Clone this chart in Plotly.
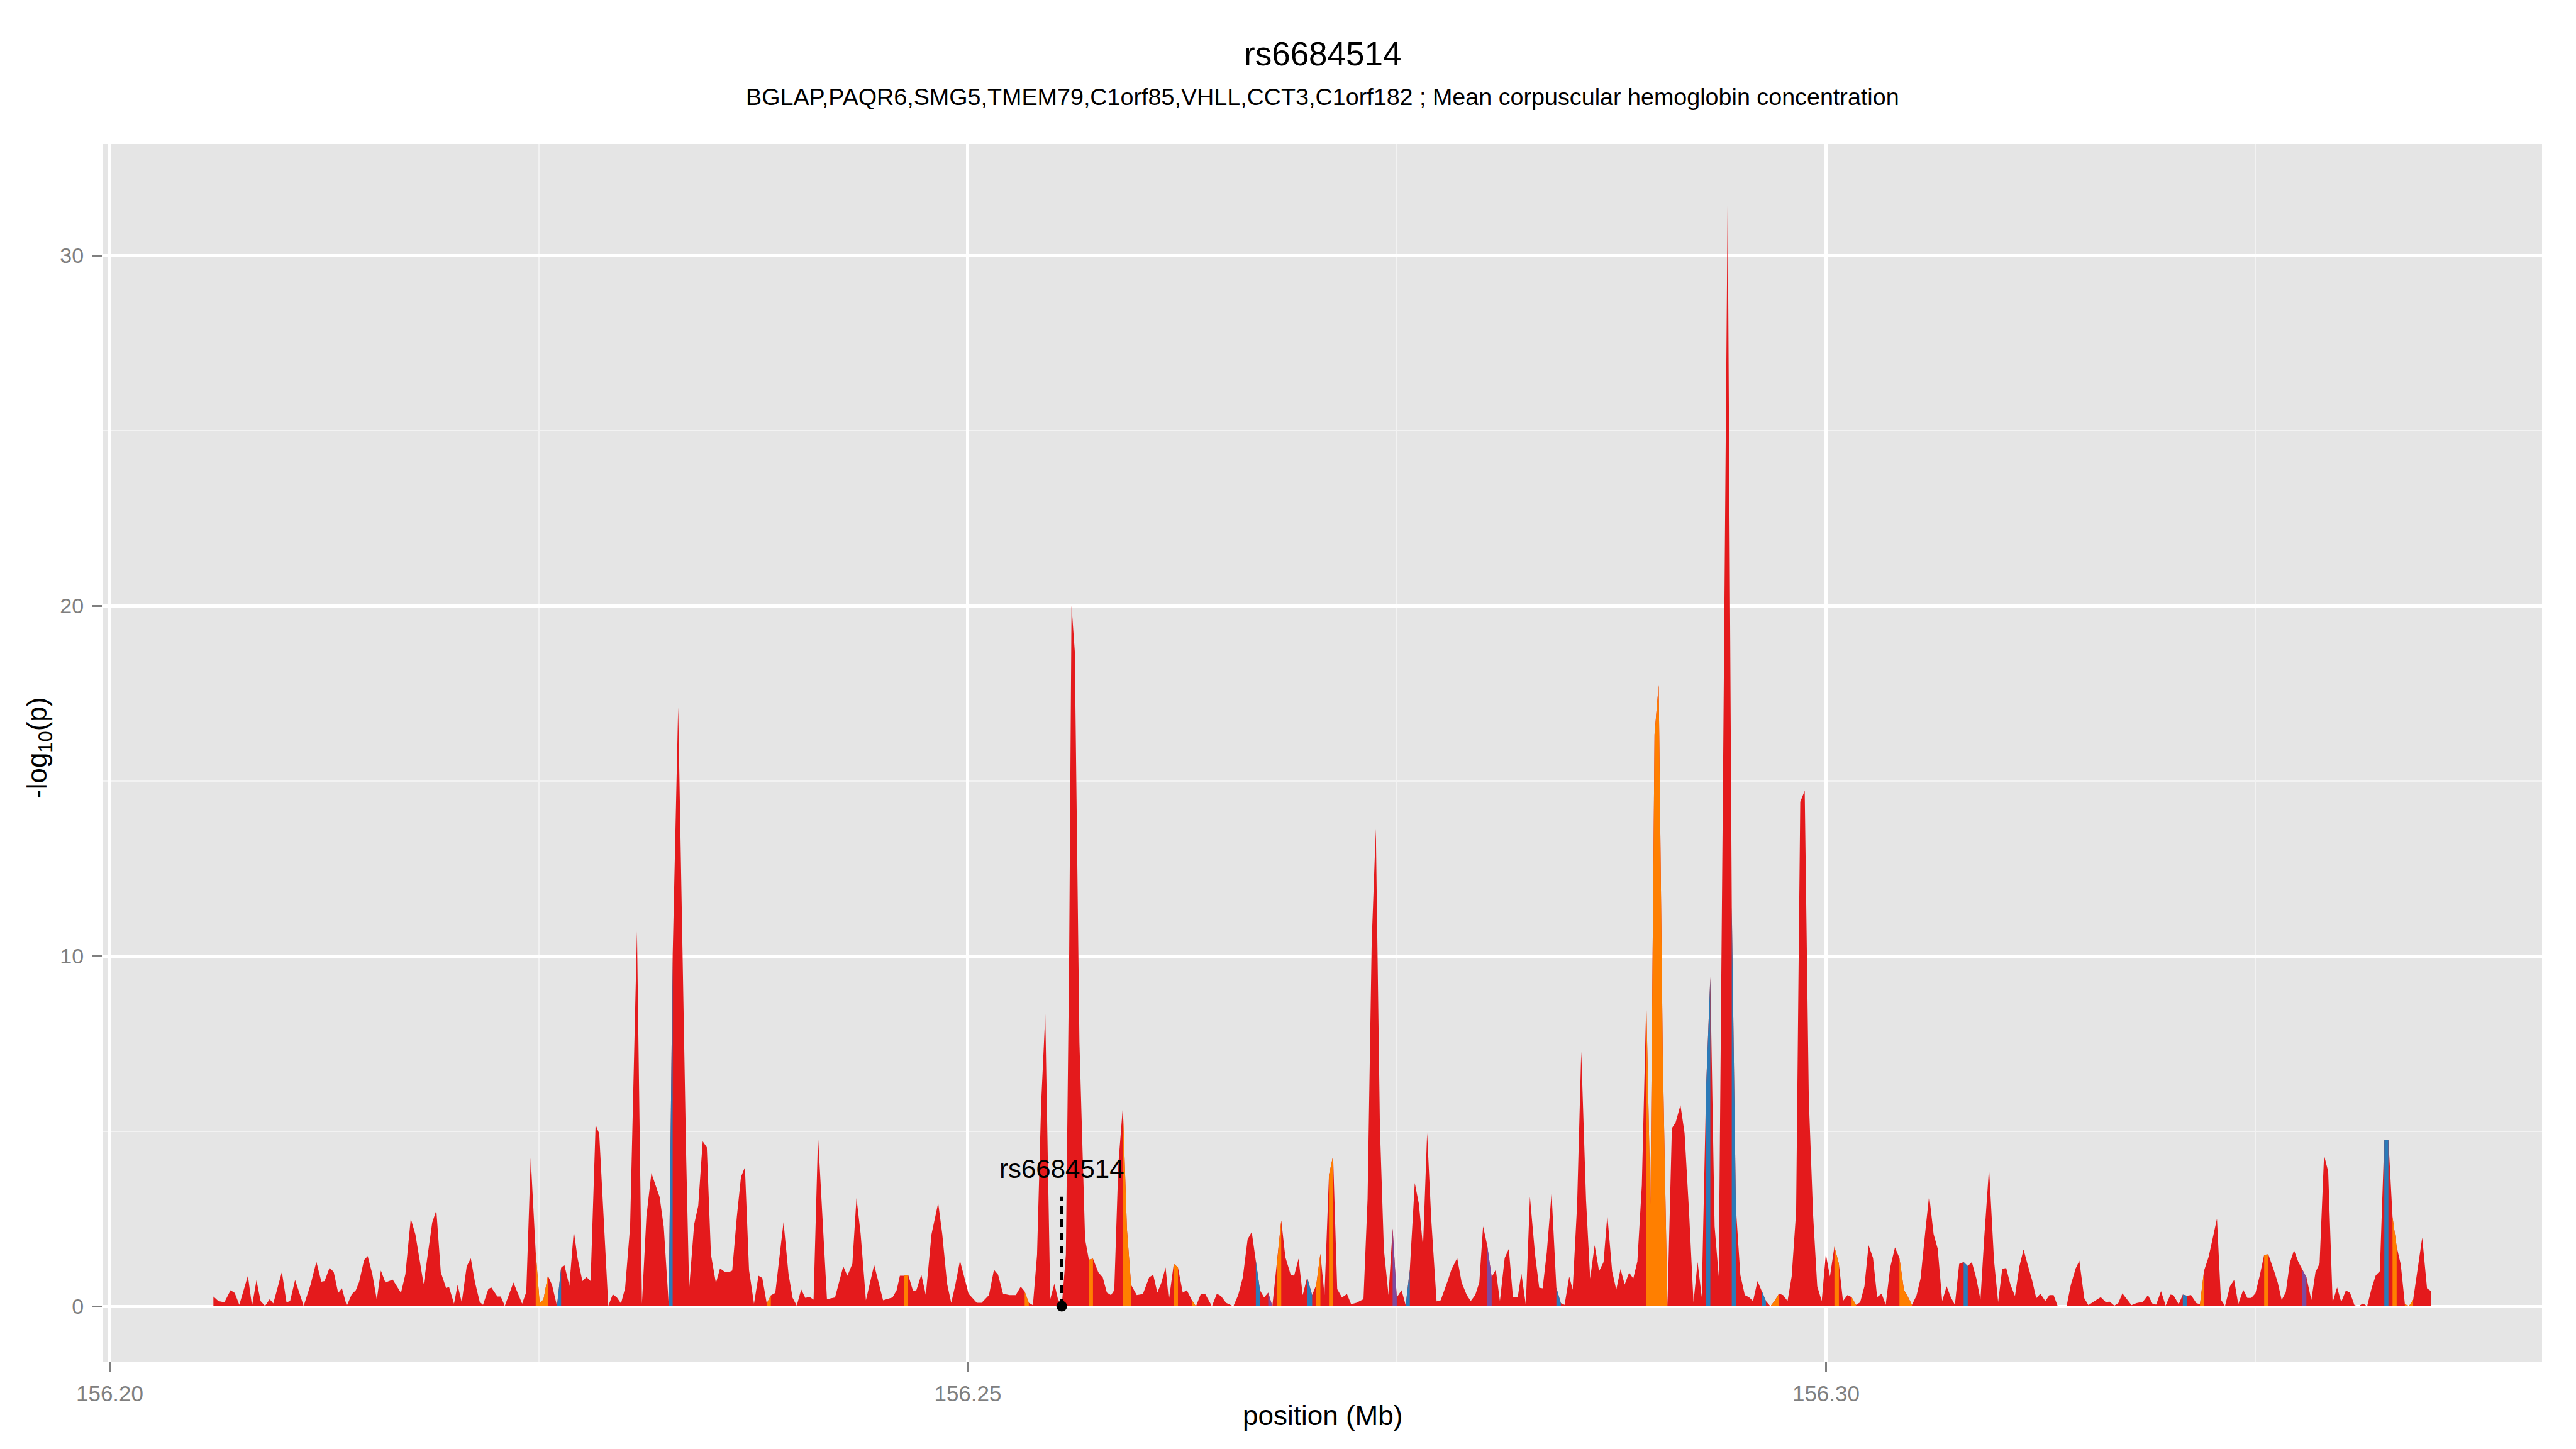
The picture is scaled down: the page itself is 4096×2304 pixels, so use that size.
import plotly.graph_objects as go

# ---------------- data ----------------
positions_mb = [
    156.20604, 156.20633, 156.20668, 156.20704, 156.20728, 156.20755, 156.20805, 156.20829, 156.20855, 156.20879,
    156.20905, 156.20932, 156.20953, 156.21003, 156.21030, 156.21051, 156.21080, 156.21130, 156.21171, 156.21204,
    156.21233, 156.21252, 156.21281, 156.21305, 156.21331, 156.21353, 156.21381, 156.21410, 156.21434, 156.21453,
    156.21482, 156.21503, 156.21530, 156.21556, 156.21580, 156.21606, 156.21649, 156.21697, 156.21723, 156.21754,
    156.21781, 156.21829, 156.21879, 156.21903, 156.21929, 156.21960, 156.21977, 156.22006, 156.22027, 156.22051,
    156.22080, 156.22104, 156.22128, 156.22156, 156.22175, 156.22206, 156.22223, 156.22259, 156.22278, 156.22302,
    156.22352, 156.22403, 156.22427, 156.22453, 156.22482, 156.22505, 156.22527, 156.22553, 156.22577, 156.22606,
    156.22630, 156.22649, 156.22678, 156.22704, 156.22726, 156.22754, 156.22778, 156.22802, 156.22831, 156.22852,
    156.22905, 156.22931, 156.22955, 156.22979, 156.23003, 156.23032, 156.23072, 156.23101, 156.23127, 156.23156,
    156.23180, 156.23204, 156.23228, 156.23257, 156.23280, 156.23312, 156.23359, 156.23376, 156.23405, 156.23429,
    156.23455, 156.23479, 156.23503, 156.23532, 156.23556, 156.23587, 156.23606, 156.23627, 156.23654, 156.23678,
    156.23701, 156.23725, 156.23754, 156.23780, 156.23802, 156.23828, 156.23852, 156.23878, 156.23900, 156.23926,
    156.23955, 156.23979, 156.24003, 156.24029, 156.24053, 156.24077, 156.24101, 156.24127, 156.24179, 156.24226,
    156.24274, 156.24298, 156.24327, 156.24351, 156.24375, 156.24406, 156.24454, 156.24482, 156.24506, 156.24561,
    156.24585, 156.24604, 156.24628, 156.24652, 156.24681, 156.24700, 156.24729, 156.24755, 156.24788, 156.24827,
    156.24851, 156.24879, 156.24903, 156.24927, 156.24954, 156.24977, 156.25004, 156.25052, 156.25080, 156.25123,
    156.25152, 156.25176, 156.25205, 156.25243, 156.25279, 156.25308, 156.25331, 156.25355, 156.25379, 156.25403,
    156.25427, 156.25451, 156.25480, 156.25504, 156.25525, 156.25547, 156.25571, 156.25590, 156.25604, 156.25623,
    156.25650, 156.25683, 156.25705, 156.25729, 156.25760, 156.25786, 156.25810, 156.25834, 156.25853, 156.25877,
    156.25903, 156.25927, 156.25951, 156.25984, 156.26020, 156.26056, 156.26080, 156.26104, 156.26128, 156.26152,
    156.26171, 156.26200, 156.26224, 156.26252, 156.26276, 156.26305, 156.26329, 156.26358, 156.26382, 156.26422,
    156.26451, 156.26475, 156.26504, 156.26547, 156.26575, 156.26602, 156.26630, 156.26654, 156.26678, 156.26702,
    156.26726, 156.26750, 156.26774, 156.26803, 156.26826, 156.26850, 156.26881, 156.26901, 156.26927, 156.26951,
    156.26977, 156.27006, 156.27030, 156.27054, 156.27078, 156.27104, 156.27128, 156.27152, 156.27180, 156.27209,
    156.27233, 156.27264, 156.27305, 156.27329, 156.27353, 156.27377, 156.27401, 156.27424, 156.27451, 156.27475,
    156.27499, 156.27527, 156.27551, 156.27575, 156.27604, 156.27628, 156.27652, 156.27676, 156.27700, 156.27731,
    156.27755, 156.27797, 156.27817, 156.27851, 156.27877, 156.27907, 156.27930, 156.27956, 156.27980, 156.28002,
    156.28026, 156.28052, 156.28076, 156.28100, 156.28128, 156.28152, 156.28176, 156.28204, 156.28225, 156.28251,
    156.28275, 156.28305, 156.28329, 156.28349, 156.28373, 156.28401, 156.28429, 156.28455, 156.28477, 156.28504,
    156.28524, 156.28550, 156.28574, 156.28602, 156.28626, 156.28652, 156.28678, 156.28704, 156.28726, 156.28754,
    156.28778, 156.28803, 156.28827, 156.28853, 156.28877, 156.28901, 156.28927, 156.28953, 156.28977, 156.29001,
    156.29025, 156.29049, 156.29076, 156.29102, 156.29124, 156.29152, 156.29176, 156.29202, 156.29228, 156.29252,
    156.29276, 156.29302, 156.29326, 156.29351, 156.29375, 156.29401, 156.29427, 156.29451, 156.29475, 156.29501,
    156.29527, 156.29551, 156.29575, 156.29601, 156.29627, 156.29650, 156.29676, 156.29700, 156.29726, 156.29750,
    156.29776, 156.29800, 156.29826, 156.29850, 156.29876, 156.29900, 156.29925, 156.29949, 156.29975, 156.29999,
    156.30023, 156.30049, 156.30075, 156.30099, 156.30125, 156.30149, 156.30175, 156.30199, 156.30224, 156.30248,
    156.30274, 156.30298, 156.30324, 156.30348, 156.30374, 156.30402, 156.30428, 156.30454, 156.30478, 156.30501,
    156.30527, 156.30551, 156.30577, 156.30601, 156.30627, 156.30651, 156.30677, 156.30703, 156.30727, 156.30751,
    156.30776, 156.30802, 156.30826, 156.30850, 156.30876, 156.30900, 156.30922, 156.30950, 156.30979, 156.31003,
    156.31027, 156.31050, 156.31074, 156.31101, 156.31127, 156.31151, 156.31175, 156.31201, 156.31225, 156.31249,
    156.31278, 156.31302, 156.31326, 156.31349, 156.31402, 156.31426, 156.31455, 156.31476, 156.31505, 156.31529,
    156.31565, 156.31601, 156.31629, 156.31653, 156.31680, 156.31703, 156.31727, 156.31756, 156.31780, 156.31809,
    156.31847, 156.31876, 156.31904, 156.31924, 156.31952, 156.31979, 156.32007, 156.32024, 156.32055, 156.32079,
    156.32103, 156.32127, 156.32158, 156.32179, 156.32203, 156.32230, 156.32254, 156.32278, 156.32301, 156.32325,
    156.32354, 156.32378, 156.32402, 156.32431, 156.32455, 156.32478, 156.32502, 156.32529, 156.32553, 156.32577,
    156.32608, 156.32632, 156.32655, 156.32679, 156.32703, 156.32727, 156.32751, 156.32775, 156.32799, 156.32828,
    156.32852, 156.32876, 156.32902, 156.32926, 156.32952, 156.32978, 156.33002, 156.33029, 156.33053, 156.33079,
    156.33103, 156.33129, 156.33153, 156.33179, 156.33203, 156.33227, 156.33253, 156.33277, 156.33301, 156.33325,
    156.33349, 156.33373, 156.33397, 156.33421, 156.33450, 156.33474, 156.33502, 156.33526,
]

neg_log10_p = [
    0.28, 0.15, 0.11, 0.46, 0.38, 0.04, 0.87, 0.01, 0.74, 0.15,
    0.01, 0.20, 0.08, 0.98, 0.11, 0.15, 0.75, 0.01, 0.63, 1.27,
    0.70, 0.72, 1.10, 0.98, 0.38, 0.51, 0.01, 0.34, 0.46, 0.69,
    1.32, 1.43, 0.92, 0.19, 1.02, 0.68, 0.76, 0.38, 0.92, 2.50,
    2.05, 0.63, 2.39, 2.74, 0.97, 0.52, 0.55, 0.07, 0.61, 0.11,
    1.14, 1.37, 0.69, 0.12, 0.04, 0.49, 0.54, 0.28, 0.28, 0.01,
    0.68, 0.07, 0.41, 4.23, 1.54, 0.10, 0.19, 0.87, 0.61, 0.01,
    1.10, 1.18, 0.58, 2.15, 1.37, 0.72, 0.83, 0.72, 5.18, 4.93,
    0.01, 0.34, 0.25, 0.08, 0.52, 2.27, 10.70, 0.07, 2.56, 3.80,
    3.46, 3.12, 2.27, 0.05, 10.00, 17.10, 4.20, 0.50, 2.33, 2.87,
    4.71, 4.54, 1.48, 0.66, 1.08, 0.97, 0.97, 1.02, 2.56, 3.69,
    3.97, 1.03, 0.07, 0.87, 0.81, 0.08, 0.31, 0.38, 1.31, 2.40,
    0.92, 0.24, 0.02, 0.48, 0.24, 0.27, 0.19, 4.85, 0.20, 0.25,
    1.14, 0.87, 1.21, 3.09, 2.08, 0.17, 1.18, 0.64, 0.17, 0.25,
    0.46, 0.87, 0.87, 0.90, 0.43, 0.46, 0.90, 0.32, 2.05, 2.95,
    2.05, 0.64, 0.10, 0.61, 1.30, 0.87, 0.36, 0.10, 0.10, 0.32,
    1.04, 0.90, 0.36, 0.32, 0.32, 0.56, 0.42, 0.10, 0.03, 1.47,
    5.80, 8.33, 0.20, 0.64, 0.20, 0.00, 1.47, 9.85, 20.00, 18.70,
    7.54, 1.91, 1.33, 1.36, 0.97, 0.82, 0.39, 0.32, 0.46, 4.07,
    5.69, 2.19, 0.61, 0.32, 0.35, 0.82, 0.90, 0.39, 0.68, 1.11,
    0.17, 1.21, 1.11, 0.39, 0.46, 0.17, 0.00, 0.36, 0.36, 0.00,
    0.36, 0.29, 0.10, 0.00, 0.32, 0.82, 1.91, 2.12, 1.30, 0.46,
    0.25, 0.39, 0.00, 1.33, 2.45, 1.40, 0.90, 0.87, 1.36, 0.32,
    0.82, 0.32, 0.61, 1.50, 0.32, 3.75, 4.29, 0.49, 0.25, 0.35,
    0.06, 0.10, 0.20, 3.06, 10.40, 13.63, 5.08, 1.62, 0.32, 2.22,
    0.25, 0.46, 0.03, 1.04, 3.52, 2.92, 1.69, 4.94, 2.48, 0.14,
    0.17, 0.74, 1.04, 1.38, 0.68, 0.32, 0.15, 0.32, 0.68, 2.28,
    1.74, 0.83, 1.04, 0.15, 1.38, 1.64, 0.26, 0.26, 0.94, 0.04,
    3.13, 1.47, 0.53, 0.51, 1.53, 3.23, 0.53, 0.09, 0.04, 0.85,
    0.47, 2.91, 7.27, 3.02, 0.79, 1.74, 1.00, 1.26, 2.60, 1.00,
    0.47, 1.06, 0.62, 0.96, 0.79, 1.28, 3.45, 8.70, 2.91, 16.32,
    17.74, 7.17, 0.00, 5.08, 5.25, 5.74, 4.94, 2.70, 0.11, 1.26,
    0.26, 6.32, 9.40, 2.28, 0.85, 15.68, 31.60, 11.40, 2.81, 0.89,
    0.32, 0.26, 0.15, 0.72, 0.43, 0.15, 0.00, 0.15, 0.36, 0.32,
    0.15, 0.85, 2.70, 14.40, 14.72, 5.89, 2.60, 0.57, 0.15, 1.49,
    0.85, 1.70, 1.21, 0.15, 0.32, 0.26, 0.04, 0.11, 0.57, 1.74,
    1.38, 0.26, 0.36, 0.04, 1.11, 1.68, 1.38, 0.47, 0.26, 0.04,
    0.30, 0.79, 2.06, 3.17, 2.06, 1.64, 0.15, 0.57, 0.26, 0.04,
    1.21, 1.26, 1.15, 1.26, 0.79, 0.19, 1.96, 3.94, 1.31, 0.12,
    1.07, 1.09, 0.63, 0.29, 1.14, 1.62, 1.19, 0.74, 0.23, 0.36,
    0.15, 0.32, 0.32, 0.02, 0.00, 0.60, 1.08, 1.30, 0.23, 0.03,
    0.15, 0.26, 0.12, 0.13, 0.02, 0.09, 0.37, 0.18, 0.03, 0.09,
    0.13, 0.32, 0.06, 0.05, 0.43, 0.02, 0.33, 0.32, 0.06, 0.33,
    0.30, 0.32, 0.09, 0.06, 1.02, 1.42, 1.99, 2.50, 0.19, 0.01,
    0.57, 0.75, 0.06, 0.47, 0.24, 0.24, 0.37, 0.91, 1.47, 1.48,
    1.05, 0.68, 0.18, 0.40, 1.25, 1.60, 1.28, 1.04, 0.83, 0.18,
    0.97, 1.22, 4.31, 3.85, 0.11, 0.54, 0.12, 0.45, 0.39, 0.03,
    0.00, 0.08, 0.00, 0.51, 0.88, 1.00, 4.75, 4.76, 2.55, 1.70,
    1.19, 0.06, 0.01, 0.18, 1.14, 1.96, 0.51, 0.43,
]

# positions (Mb) where the fill of the following segment changes colour group
orange_segment_starts = [
    156.22482, 156.22505, 156.22527, 156.23828, 156.24628, 156.25331, 156.25705, 156.25903,
    156.25927, 156.26200, 156.26305, 156.26803, 156.27030, 156.27104, 156.28953, 156.28977,
    156.29001, 156.29025, 156.29049, 156.29676, 156.29700, 156.30049, 156.30149, 156.30428,
    156.30454, 156.30478, 156.32179, 156.32553, 156.33301, 156.33373, 156.33397,
]
blue_segment_starts = [
    156.22606, 156.23257, 156.26678, 156.26977, 156.27551, 156.28429, 156.29302, 156.29451,
    156.29627, 156.30802, 156.32079, 156.33253,
]
purple_segment_starts = [156.26750, 156.27475, 156.28026, 156.32775]

lead_snp = "rs6684514"
lead_snp_pos_mb = 156.25547
lead_snp_value = 0.0
lead_label_y = 3.93
lead_line_top = 3.13

title_text = "rs6684514"
subtitle_text = "BGLAP,PAQR6,SMG5,TMEM79,C1orf85,VHLL,CCT3,C1orf182 ; Mean corpuscular hemoglobin concentration"
x_title = "position (Mb)"
y_title = "-log<sub>10</sub>(p)"

x_major_ticks = [156.20, 156.25, 156.30]
x_minor_ticks = [156.225, 156.275, 156.325]
y_major_ticks = [0, 10, 20, 30]
y_minor_ticks = [5, 15, 25]

group_colors = {"R": "#E41A1C", "O": "#FF7F00", "B": "#2B7AB8", "P": "#7E4A9E"}

# ---------------- build figure ----------------
assert len(positions_mb) == len(neg_log10_p)
n = len(positions_mb)
seg_class = ["R"] * n


def nearest_index(p):
    return min(range(n), key=lambda k: abs(positions_mb[k] - p))


for code, starts in (("O", orange_segment_starts), ("B", blue_segment_starts), ("P", purple_segment_starts)):
    for p in starts:
        seg_class[nearest_index(p)] = code

fig = go.Figure()


def add_area(i, j, color):
    xs = list(positions_mb[i:j + 1]) + [positions_mb[j], positions_mb[i]]
    ys = list(neg_log10_p[i:j + 1]) + [0.0, 0.0]
    fig.add_trace(go.Scatter(
        x=xs, y=ys, mode="lines", fill="toself", fillcolor=color,
        line=dict(width=0, color=color), hoverinfo="skip", showlegend=False,
    ))


# base red area across the whole region
add_area(0, n - 1, group_colors["R"])
# overlay coloured runs
i = 0
while i < n - 1:
    c = seg_class[i]
    if c == "R":
        i += 1
        continue
    j = i
    while j < n - 1 and seg_class[j] == c:
        j += 1
    add_area(i, j, group_colors[c])
    i = j

# lead SNP marker, dashed connector and label
fig.add_trace(go.Scatter(
    x=[lead_snp_pos_mb, lead_snp_pos_mb], y=[lead_snp_value, lead_line_top],
    mode="lines", line=dict(color="black", width=4.5, dash="12px,9px"),
    hoverinfo="skip", showlegend=False,
))
fig.add_trace(go.Scatter(
    x=[lead_snp_pos_mb], y=[lead_snp_value], mode="markers",
    marker=dict(color="black", size=17), hoverinfo="skip", showlegend=False,
))

xmin, xmax = min(positions_mb), max(positions_mb)
xspan = xmax - xmin
ymax = max(neg_log10_p)
x_range = [xmin - 0.05 * xspan, xmax + 0.05 * xspan]
y_range = [0 - 0.05 * ymax, ymax + 0.05 * ymax]

FONT = "Liberation Sans, Arial, Helvetica, sans-serif"
TICK_GREY = "#7F7F7F"

W, H = 4096, 2304
ML, MR, MT, MB = 163, 54, 229, 139
plot_w = W - ML - MR
plot_h = H - MT - MB


def py(px_from_top):
    return (H - MB - px_from_top) / plot_h


def px(px_from_left):
    return (px_from_left - ML) / plot_w


fig.update_layout(
    width=W, height=H,
    margin=dict(l=ML, r=MR, t=MT, b=MB, autoexpand=False),
    paper_bgcolor="white", plot_bgcolor="#E5E5E5",
    font=dict(family=FONT, color="black"),
    showlegend=False,
    xaxis=dict(
        range=x_range, tickmode="array", tickvals=x_major_ticks,
        ticktext=[f"{v:.2f}" for v in x_major_ticks],
        showgrid=True, gridcolor="white", gridwidth=4.5,
        zeroline=False, showline=False,
        ticks="outside", ticklen=16, tickwidth=3, tickcolor=TICK_GREY,
        tickfont=dict(size=35, color=TICK_GREY, family=FONT),
        ticklabelstandoff=4,
        minor=dict(tickmode="array", tickvals=x_minor_ticks, showgrid=True,
                   gridcolor="#F2F2F2", gridwidth=2.3, ticks=""),
    ),
    yaxis=dict(
        range=y_range, tickmode="array", tickvals=y_major_ticks,
        ticktext=[str(v) for v in y_major_ticks],
        showgrid=True, gridcolor="white", gridwidth=4.5,
        zeroline=False, showline=False,
        ticks="outside", ticklen=16, tickwidth=3, tickcolor=TICK_GREY,
        tickfont=dict(size=34, color=TICK_GREY, family=FONT),
        ticklabelstandoff=6,
        minor=dict(tickmode="array", tickvals=y_minor_ticks, showgrid=True,
                   gridcolor="#F2F2F2", gridwidth=2.3, ticks=""),
    ),
    annotations=[
        dict(text=title_text, xref="paper", yref="paper", x=0.5, y=py(86),
             xanchor="center", yanchor="middle", showarrow=False,
             font=dict(size=53, family=FONT, color="black")),
        dict(text=subtitle_text, xref="paper", yref="paper", x=0.5, y=py(154),
             xanchor="center", yanchor="middle", showarrow=False,
             font=dict(size=37.7, family=FONT, color="black")),
        dict(text=x_title, xref="paper", yref="paper", x=0.5, y=py(2250),
             xanchor="center", yanchor="middle", showarrow=False,
             font=dict(size=44, family=FONT, color="black")),
        dict(text=y_title, xref="paper", yref="paper", x=px(62), y=py(1190),
             xanchor="center", yanchor="middle", showarrow=False, textangle=-90,
             font=dict(size=44, family=FONT, color="black")),
        dict(text=lead_snp, xref="x", yref="y", x=lead_snp_pos_mb, y=lead_label_y,
             xanchor="center", yanchor="middle", showarrow=False,
             font=dict(size=42, family=FONT, color="black")),
    ],
)

fig.write_html(
    "out.html",
    config={"displayModeBar": False},
    post_script="document.body.style.margin='0';document.body.style.overflow='hidden';",
)
